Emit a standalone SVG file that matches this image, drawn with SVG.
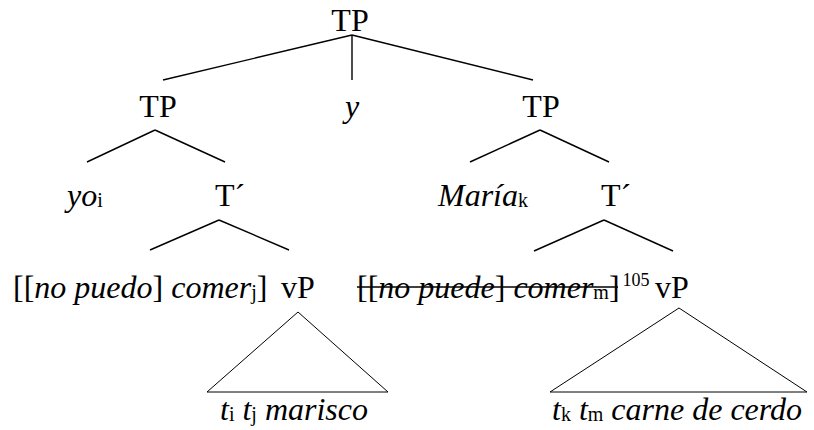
<svg xmlns="http://www.w3.org/2000/svg" width="814" height="430" viewBox="0 0 814 430" font-family="Liberation Serif, Times New Roman, serif" font-size="32">
<style>
text{font-family:'Liberation Serif','Times New Roman',serif;font-size:32px;fill:#000}
.it{font-style:italic}
.sub{font-size:20px;font-style:normal}
.sup{font-size:18px;font-style:normal}
.br{stroke:#000;stroke-width:1.4;fill:none}
.tri{stroke:#000;stroke-width:1;fill:none}
.strike{stroke:#000;stroke-width:1.6}
</style>
<rect width="814" height="430" fill="#fff"/>
<g id="connectors">
<line class="br" x1="352" y1="35" x2="163" y2="80"/>
<line class="br" x1="352" y1="35" x2="352" y2="80"/>
<line class="br" x1="352" y1="35" x2="533" y2="80"/>
<line class="br" x1="155" y1="130" x2="87" y2="162"/>
<line class="br" x1="155" y1="130" x2="225" y2="162"/>
<line class="br" x1="540" y1="130" x2="470" y2="162"/>
<line class="br" x1="540" y1="130" x2="609" y2="162"/>
<line class="br" x1="219" y1="220" x2="150" y2="250"/>
<line class="br" x1="219" y1="220" x2="289" y2="250"/>
<line class="br" x1="604" y1="220" x2="534" y2="251"/>
<line class="br" x1="604" y1="220" x2="673" y2="251"/>
<polygon class="tri" points="298,312 207,392 388,392"/>
<polygon class="tri" points="679,308 550,392 807,392"/>
</g>
<g id="tp-root"><text x="350" y="31" text-anchor="middle">TP</text></g>
<g id="tp-left"><text x="158" y="117" text-anchor="middle">TP</text></g>
<g id="conj-y"><text class="it" x="352" y="117" text-anchor="middle">y</text></g>
<g id="tp-right"><text x="541" y="117" text-anchor="middle">TP</text></g>
<g id="yo"><text x="67" y="206"><tspan class="it">yo</tspan><tspan class="sub" dy="1">i</tspan></text></g>
<g id="tbar-left"><text x="215" y="206">T´</text></g>
<g id="maria"><text x="438" y="206"><tspan class="it">María</tspan><tspan class="sub" dy="1">k</tspan></text></g>
<g id="tbar-right"><text x="601" y="206">T´</text></g>
<g id="head-left"><text x="13" y="298">[[<tspan class="it">no puedo</tspan>] <tspan class="it">comer</tspan><tspan class="sub" dy="1">j</tspan><tspan dy="-1">]</tspan></text></g>
<g id="vp-left"><text x="281" y="298">vP</text></g>
<g id="head-right"><text x="357" y="298">[[<tspan class="it">no puede</tspan>] <tspan class="it">comer</tspan><tspan class="sub" dy="1">m</tspan><tspan dy="-1">]</tspan><tspan class="sup" dx="3" dy="-12">105</tspan></text>
<line class="strike" x1="357" y1="287" x2="618" y2="287"/></g>
<g id="vp-right"><text x="655" y="298">vP</text></g>
<g id="leaf-left"><text x="220" y="420"><tspan class="it">t</tspan><tspan class="sub" dy="1">i</tspan><tspan class="it" dy="-1"> t</tspan><tspan class="sub" dy="1">j</tspan><tspan class="it" dy="-1"> marisco</tspan></text></g>
<g id="leaf-right"><text x="552" y="420"><tspan class="it">t</tspan><tspan class="sub" dy="1">k</tspan><tspan class="it" dy="-1"> t</tspan><tspan class="sub" dy="1">m</tspan><tspan class="it" dy="-1"> carne de cerdo</tspan></text></g>
</svg>
